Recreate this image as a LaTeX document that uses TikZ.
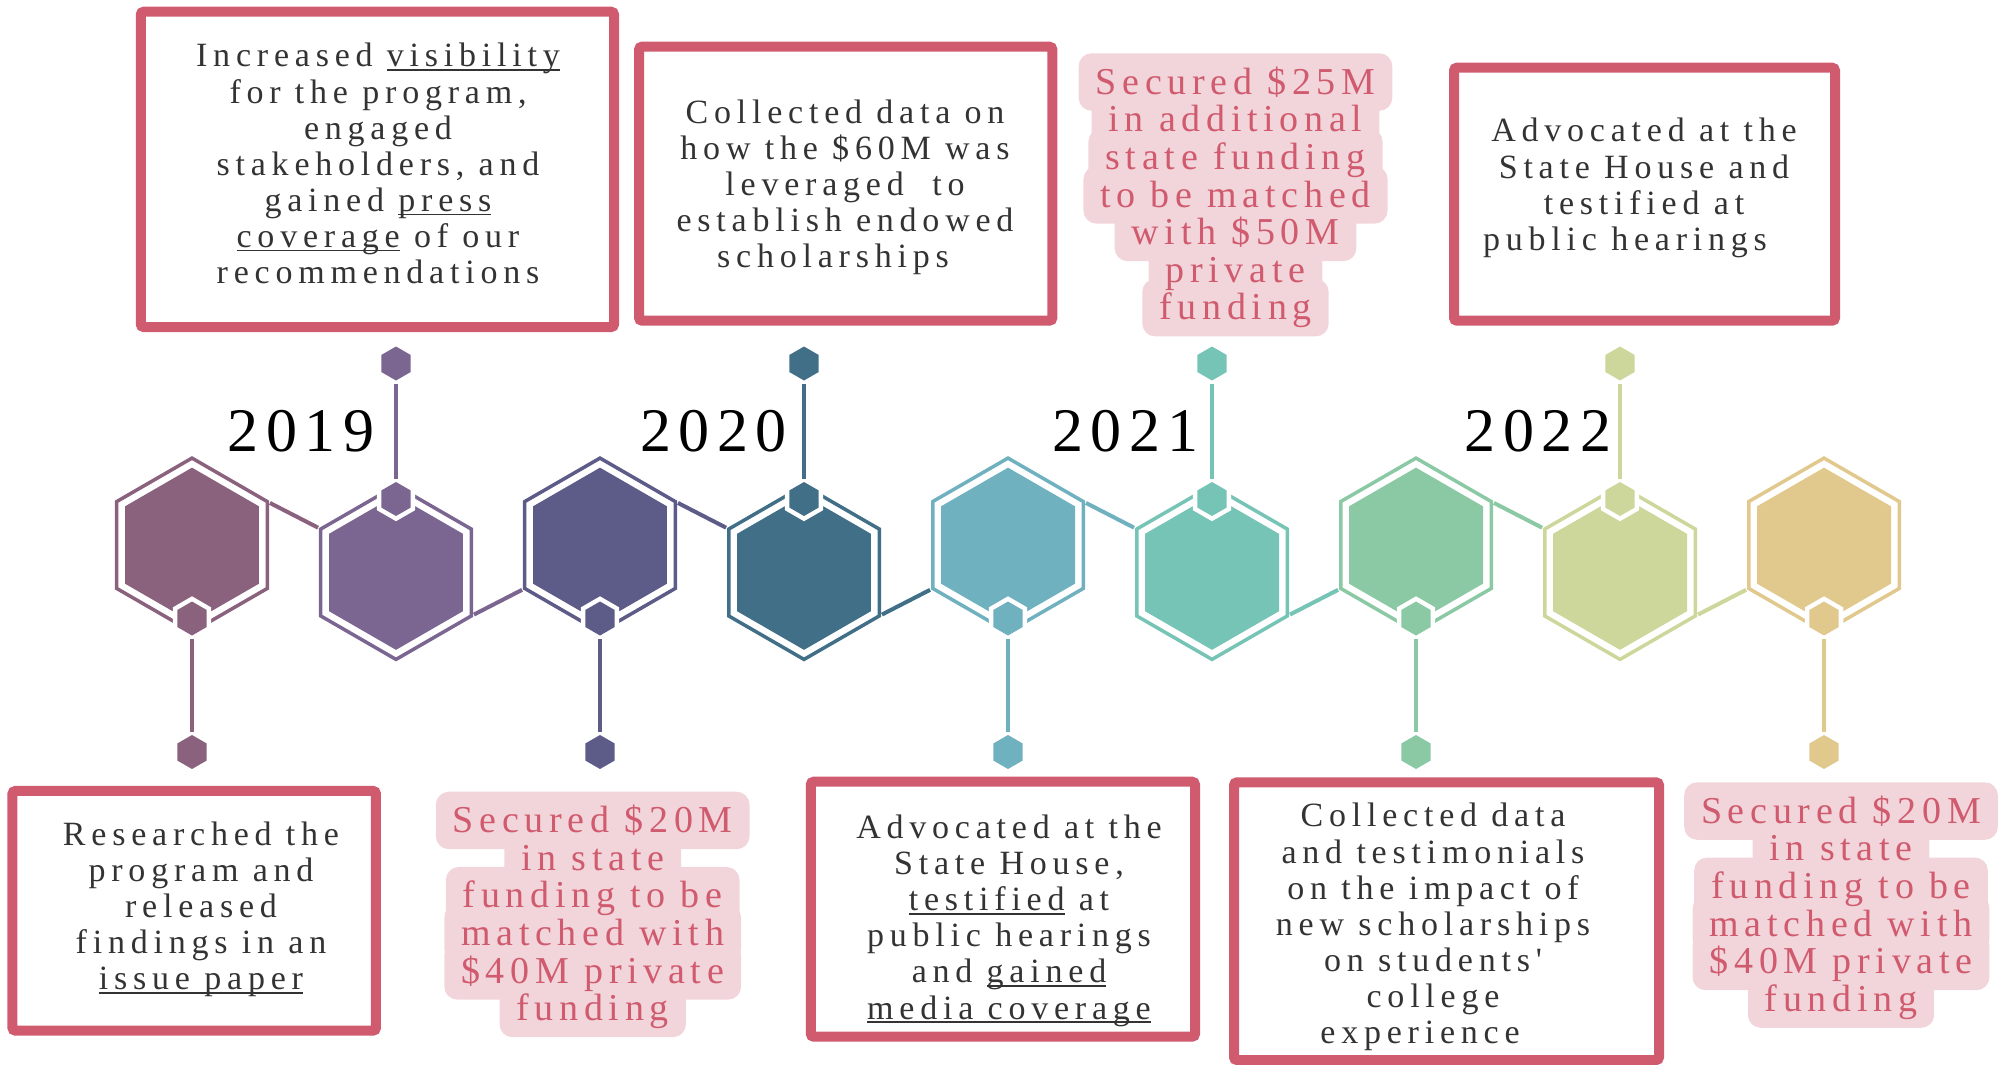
\documentclass[tikz,border=0pt]{standalone}
\usepackage{fontspec}
\usetikzlibrary{shapes.geometric}
\newfontfamily\boxfont{Liberation Serif}[LetterSpace=17]
\newfontfamily\pinkfont{Liberation Serif}[LetterSpace=15]
\newfontfamily\yearfont{Liberation Serif}
\definecolor{c1}{HTML}{8A627E}
\definecolor{c2}{HTML}{7A6690}
\definecolor{c3}{HTML}{5D5C88}
\definecolor{c4}{HTML}{426F88}
\definecolor{c5}{HTML}{70B1C0}
\definecolor{c6}{HTML}{76C4B6}
\definecolor{c7}{HTML}{8BC9A5}
\definecolor{c8}{HTML}{CDD79B}
\definecolor{c9}{HTML}{E1C98D}
\definecolor{boxred}{HTML}{D05A6E}
\definecolor{blobfill}{HTML}{F2D5DA}
\definecolor{txt}{HTML}{333333}
\newsavebox\ulbox
\newcommand\myul[1]{\sbox\ulbox{#1}\rlap{\rule[-4pt]{\wd\ulbox}{1.8pt}}\usebox\ulbox}
\newcommand\yr[4]{#1\hspace{7.5pt}#2\hspace{7.5pt}#3\hspace{7.5pt}#4}
\newcommand\blob[4]{%
  \foreach \l [count=\k] in {#4}{\node[blobbg] (#1bg\k) at ({#2},{#3+37.6*(\k-1)}) {\phantom{\l}};}
  \foreach \l [count=\k] in {#4}{\node[blobtxt] (#1t\k) at (#1bg\k.base) {\l};}
}
\tikzset{
  hexout/.style={regular polygon, regular polygon sides=6, shape border rotate=90,
    draw=#1, line width=3.5pt, minimum size=173.8pt, inner sep=0pt, outer sep=0pt},
  hexin/.style={regular polygon, regular polygon sides=6, shape border rotate=90,
    fill=#1, draw=none, minimum size=154.7pt, inner sep=0pt, outer sep=0pt},
  halo/.style={regular polygon, regular polygon sides=6, shape border rotate=90,
    fill=white, draw=none, minimum size=44.4pt, inner sep=0pt, outer sep=0pt},
  dot/.style={regular polygon, regular polygon sides=6, shape border rotate=90,
    fill=#1, draw=none, minimum size=34pt, inner sep=0pt, outer sep=0pt},
  stem/.style={draw=#1, line width=3.3pt, shorten <=3pt, shorten >=3pt},
  link/.style={draw=#1, line width=4pt, shorten <=3pt, shorten >=3pt},
  rbox/.style={draw=boxred, line width=10pt, rounded corners=3pt, inner sep=0pt, outer sep=0pt},
  boxtxt/.style={anchor=north, align=center, inner sep=0pt, text=txt,
    font=\boxfont\fontsize{34}{36.1}\selectfont},
  blobbg/.style={fill=blobfill, rounded corners=13pt, inner xsep=17pt, inner ysep=0pt,
    text height=41pt, text depth=16.5pt, anchor=base, font=\pinkfont\fontsize{38}{38}\selectfont},
  blobtxt/.style={anchor=base, inner sep=0pt, text=boxred, font=\pinkfont\fontsize{38}{38}\selectfont},
  year/.style={anchor=base, inner sep=0pt, text=black, font=\yearfont\fontsize{62}{62}\selectfont}
}
\begin{document}
\lineskiplimit=-100pt
\begin{tikzpicture}[x=1pt,y=-1pt]
\useasboundingbox (0,0) rectangle (2007,1065);
% hexagons
\foreach \i in {1,...,9}{
  \pgfmathsetmacro\hx{192+204*(\i-1)}
  \pgfmathtruncatemacro\odd{mod(\i,2)}
  \ifnum\odd=1 \def\hy{545}\def\sy{618.5}\def\ey{752}\else \def\hy{572.5}\def\sy{499}\def\ey{363.5}\fi
  \node[hexout=c\i] (h\i) at (\hx,\hy) {};
  \node[hexin=c\i] (f\i) at (\hx,\hy) {};
  \node[halo] (w\i) at (\hx,\sy) {};
  \node[dot=c\i] (s\i) at (\hx,\sy) {};
  \node[dot=c\i] (e\i) at (\hx,\ey) {};
  \draw[stem=c\i] (s\i) -- (e\i);
}
\foreach \i/\j in {1/2,3/4,5/6,7/8} \draw[link=c\i] (h\i.30) -- (h\j.150);
\foreach \i/\j in {2/3,4/5,6/7,8/9} \draw[link=c\i] (h\i.-30) -- (h\j.210);
% years
\node[year] (y1) at (301,451) {\yr2019};
\node[year] (y2) at (713.3,451) {\yr2020};
\node[year] (y3) at (1125.6,451) {\yr2021};
\node[year] (y4) at (1538,451) {\yr2022};
% boxes
\node[rbox, minimum width=473.3pt, minimum height=315.3pt] (b1) at (377.4,169.4) {};
\node[rbox, minimum width=413.3pt, minimum height=274pt] (b2) at (845.7,183.7) {};
\node[rbox, minimum width=381pt, minimum height=253pt] (b4) at (1644.5,194.2) {};
\node[rbox, minimum width=363.5pt, minimum height=239.7pt] (bb1) at (194.2,910.8) {};
\node[rbox, minimum width=384.2pt, minimum height=255pt] (bb3) at (1002.9,909.2) {};
\node[rbox, minimum width=425pt, minimum height=277.7pt] (bb4) at (1446.5,921.2) {};
% box texts
\node[boxtxt] (t1) at (378,36.7) {\rule{0pt}{30pt}Increased \myul{visibility}\\for the program,\\engaged\\stakeholders, and\\gained \myul{press}\\\myul{coverage} of our\\recommendations};
\node[boxtxt] (t2) at (845,93.3) {\rule{0pt}{30pt}Collected data on\\how the \$60M was\\leveraged\ \ to\\establish endowed\\scholarships\makebox[24pt]{}};
\node[boxtxt] (t4) at (1644,111.7) {\rule{0pt}{30pt}Advocated at the\\State House and\\testified at\\public hearings\makebox[38pt]{}};
\node[boxtxt] (tb1) at (201,815) {\rule{0pt}{30pt}Researched the\\program and\\released\\findings in an\\\myul{issue paper}};
\node[boxtxt] (tb3) at (1009,808.3) {\rule{0pt}{30pt}Advocated at the\\State House,\\\myul{testified} at\\public hearings\\and \myul{gained}\\\myul{media coverage}};
\node[boxtxt] (tb4) at (1433,796.7) {\rule{0pt}{30pt}Collected data\\and testimonials\\on the impact of\\new scholarships\\on students'\\college\\experience\makebox[26pt]{}};
% pink blobs
\blob{pa}{1235.5}{94.3}{Secured \$25M, in additional, state funding, to be matched, with \$50M, private, funding}
\blob{pb}{592.7}{832.7}{Secured \$20M, in state, funding to be, matched with, \$40M private, funding}
\blob{pc}{1841}{823.3}{Secured \$20M, in state, funding to be, matched with, \$40M private, funding}
\end{tikzpicture}
\end{document}
